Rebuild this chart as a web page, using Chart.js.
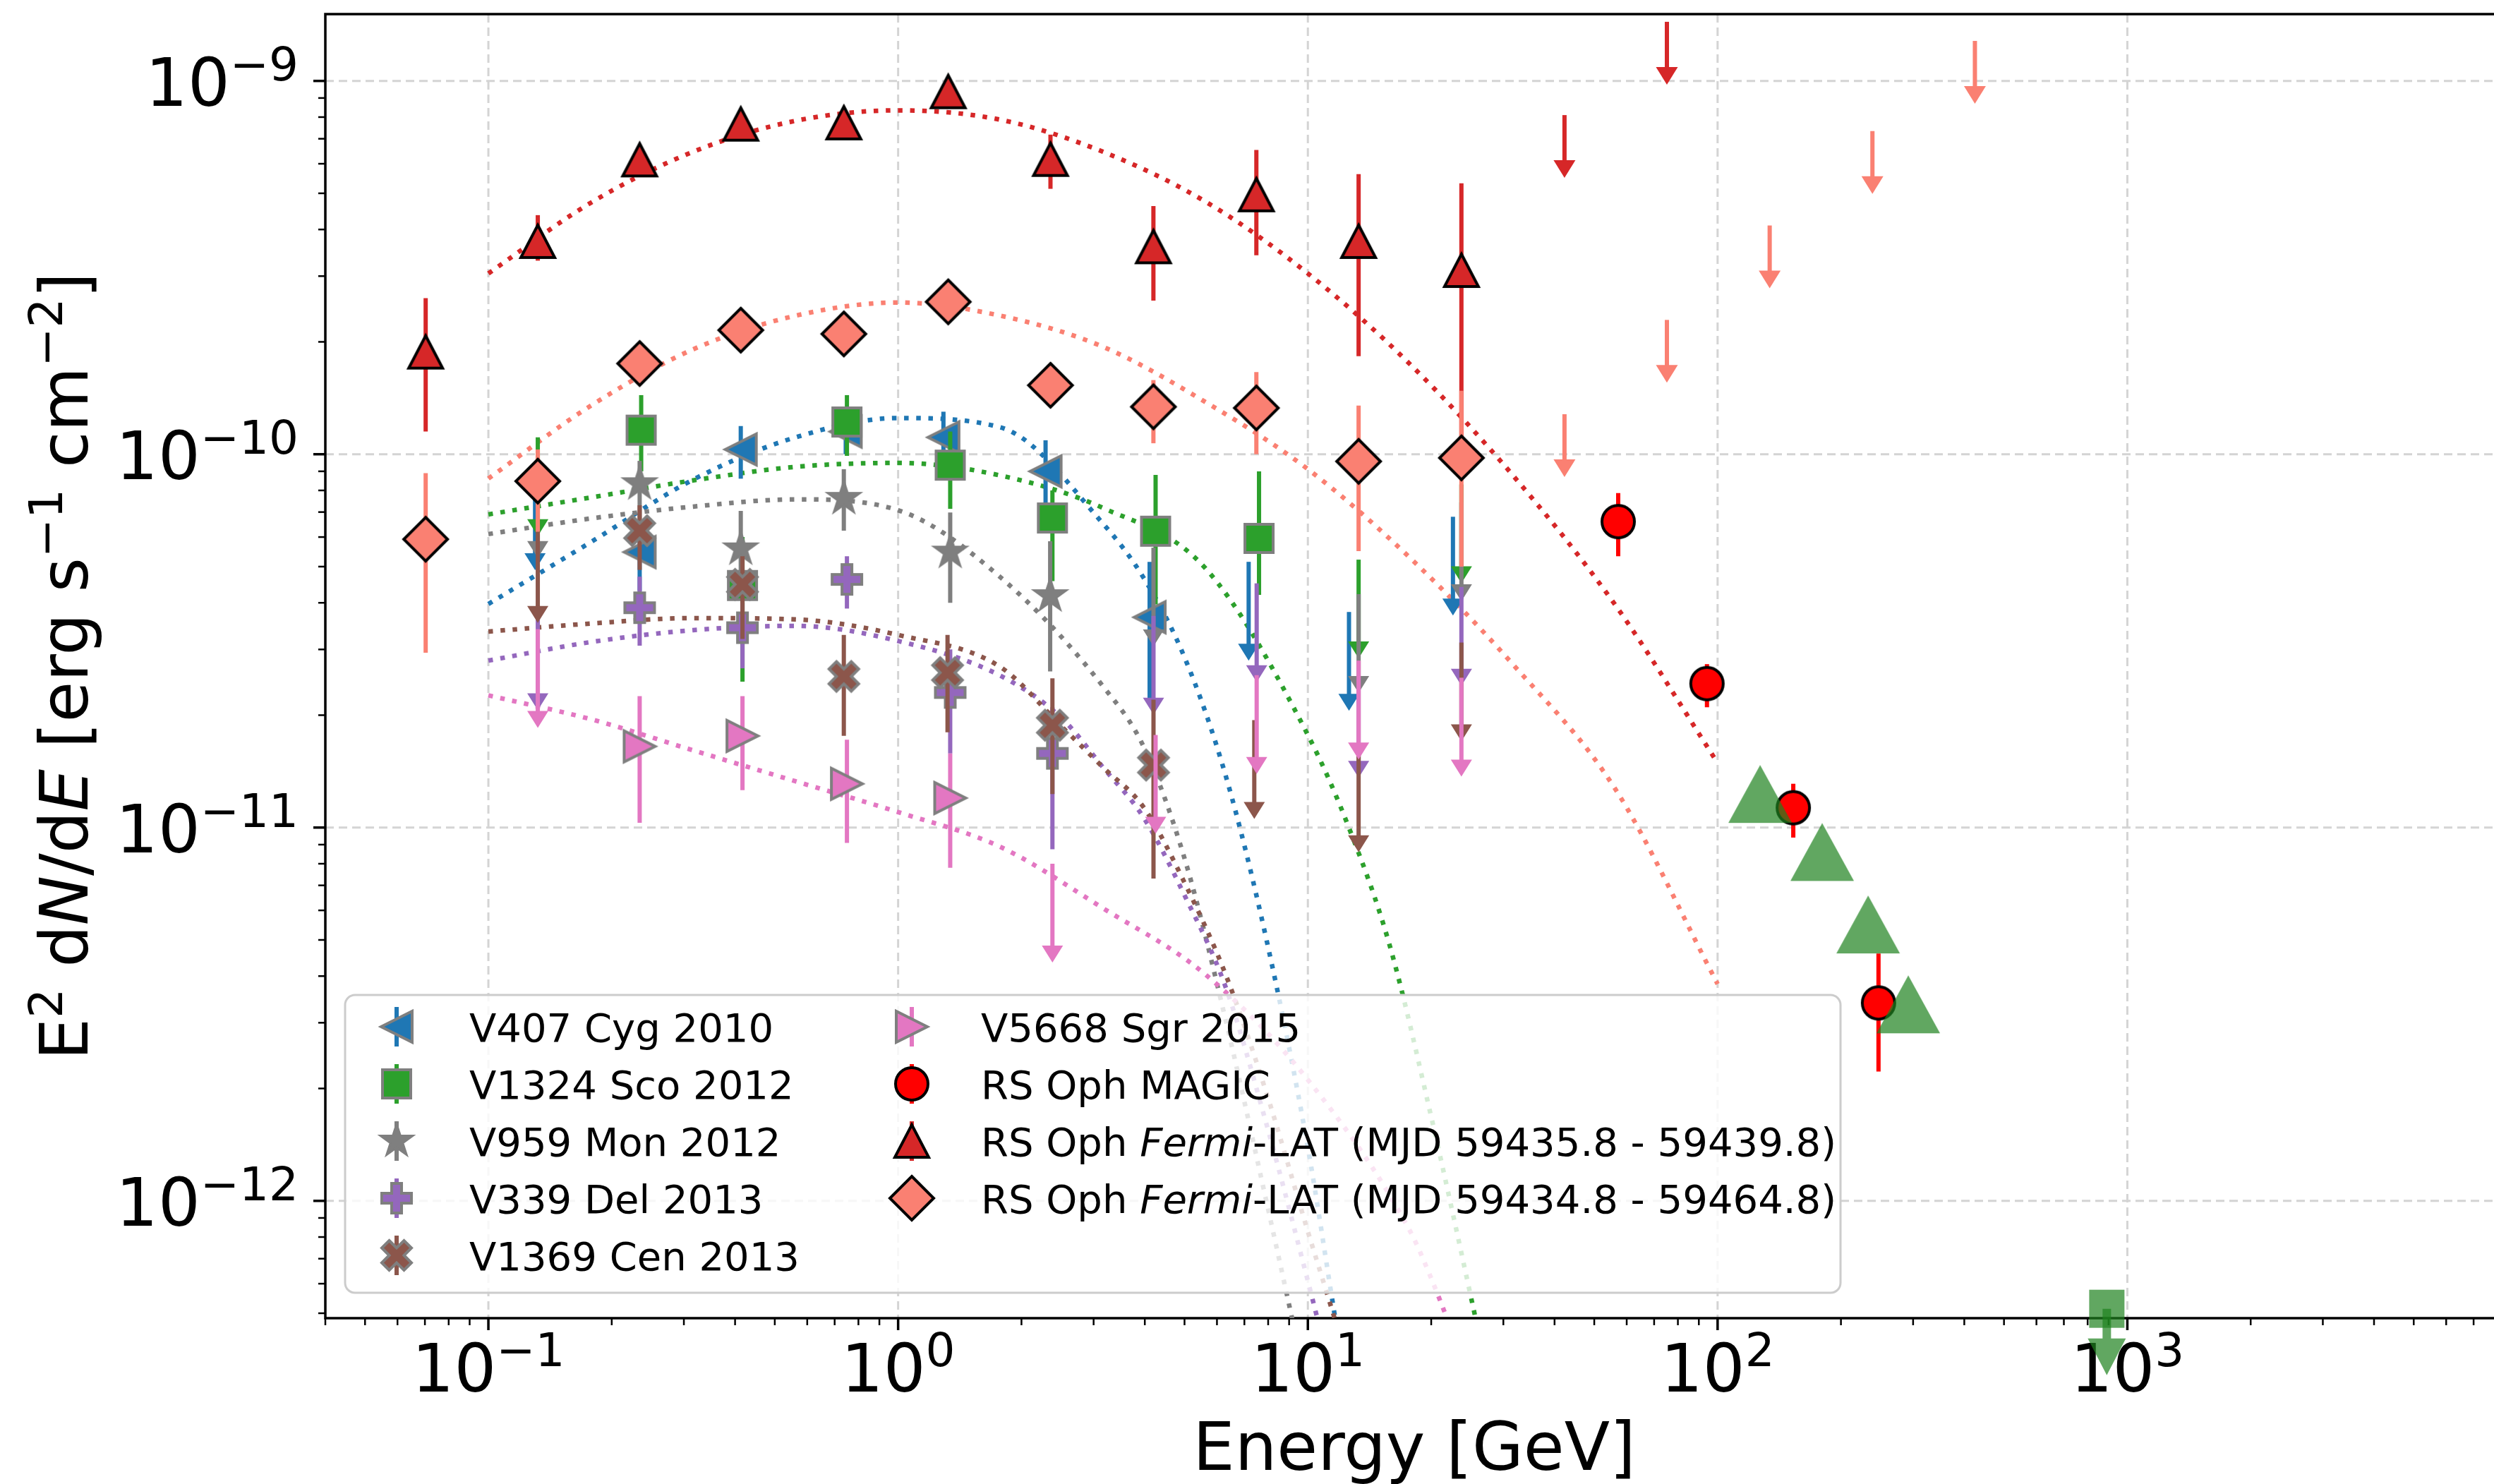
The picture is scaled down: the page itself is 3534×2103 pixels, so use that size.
<!DOCTYPE html>
<html>
<head>
<meta charset="utf-8">
<title>Espectros de novas</title>
<script src="https://cdn.jsdelivr.net/npm/chart.js@4.4.1/dist/chart.umd.min.js"></script>
<style>
  html, body { margin: 0; padding: 0; background: #fff; overflow: hidden; }
  canvas { display: block; }
</style>
</head>
<body>
<canvas id="espectro" width="3534" height="2103"></canvas>
<script>
const FONTE = '"DejaVu Sans"';
const CINZA = '#7f7f7f';

// eixos (energia em GeV, fluxo em erg s^-1 cm^-2)
const limitesX = [0.04, 7850];
const limitesY = [4.85e-13, 1.51e-9];
const ticksX = [0.1, 1, 10, 100, 1000];
const expoentesX = ['\u22121', '0', '1', '2', '3'];
const ticksY = [1e-9, 1e-10, 1e-11, 1e-12];
const expoentesY = ['\u22129', '\u221210', '\u221211', '\u221212'];

// V407 Cyg 2010
const cygE  = [0.234, 0.413, 0.745, 1.29, 2.29, 4.11];
const cygF  = [5.47e-11, 1.03e-10, 1.15e-10, 1.11e-10, 9.0e-11, 3.66e-11];
const cygLo = [4.3e-11, 8.6e-11, 1.0e-10, 1.0e-10, 6.98e-11, 2.2e-11];
const cygHi = [6.4e-11, 1.19e-10, 1.3e-10, 1.3e-10, 1.09e-10, 5.15e-11];
const cygUlE = [0.13, 7.17, 12.6, 22.6];
const cygUlF = [9.0e-11, 5.15e-11, 3.78e-11, 6.8e-11];
const cygAjE = [0.1, 0.178, 0.316, 0.562, 1, 1.778, 3.162, 3.981, 5.012, 6.31, 7.943, 10, 11.48, 12.59];
const cygAjF = [3.97e-11, 5.82e-11, 8.55e-11, 1.11e-10, 1.25e-10, 1.18e-10, 6.52e-11, 4.65e-11, 2.84e-11, 1.37e-11, 4.95e-12, 1.39e-12, 5.4e-13, 2.85e-13];

// V1324 Sco 2012
const scoE  = [0.236, 0.417, 0.75, 1.34, 2.38, 4.25, 7.6];
const scoF  = [1.16e-10, 4.45e-11, 1.22e-10, 9.35e-11, 6.75e-11, 6.22e-11, 5.95e-11];
const scoLo = [9.0e-11, 2.46e-11, 9.9e-11, 7.14e-11, 4.57e-11, 3.96e-11, 4.2e-11];
const scoHi = [1.44e-10, 6.0e-11, 1.44e-10, 1.15e-10, 8.0e-11, 8.8e-11, 9.0e-11];
const scoUlE = [0.132, 13.3, 23.7];
const scoUlF = [1.11e-10, 5.22e-11, 8.3e-11];
const scoAjE = [0.1, 0.178, 0.316, 0.562, 1, 1.778, 3.162, 5.623, 10, 12.59, 15.85, 19.95, 25.12, 28.18];
const scoAjF = [6.9e-11, 7.66e-11, 8.51e-11, 9.25e-11, 9.48e-11, 8.77e-11, 7.18e-11, 4.95e-11, 1.77e-11, 1.0e-11, 4.82e-12, 1.7e-12, 5.4e-13, 3.0e-13];

// V959 Mon 2012
const monE  = [0.234, 0.413, 0.737, 1.34, 2.35];
const monF  = [8.34e-11, 5.58e-11, 7.62e-11, 5.47e-11, 4.18e-11];
const monLo = [6.5e-11, 4.89e-11, 6.24e-11, 4.0e-11, 2.62e-11];
const monHi = [9.6e-11, 7.05e-11, 9.12e-11, 6.98e-11, 5.85e-11];
const monUlE = [0.132, 4.2, 13.3, 23.7];
const monUlF = [9.7e-11, 5.62e-11, 4.22e-11, 7.43e-11];
const monAjE = [0.1, 0.178, 0.316, 0.562, 1, 1.778, 3.162, 3.981, 5.012, 6.31, 7.943, 8.913, 10];
const monAjF = [6.11e-11, 6.73e-11, 7.24e-11, 7.57e-11, 7.08e-11, 4.68e-11, 2.39e-11, 1.64e-11, 8.2e-12, 3.03e-12, 9.84e-13, 5.53e-13, 3.1e-13];

// V339 Del 2013
const delE  = [0.234, 0.417, 0.75, 1.34, 2.38];
const delF  = [3.88e-11, 3.43e-11, 4.62e-11, 2.3e-11, 1.58e-11];
const delLo = [3.07e-11, 2.67e-11, 3.86e-11, 1.58e-11, 8.75e-12];
const delHi = [4.7e-11, 4.0e-11, 5.33e-11, 3.0e-11, 2.1e-11];
const delUlE = [0.132, 4.2, 7.5, 13.3, 23.7];
const delUlF = [3.79e-11, 3.69e-11, 4.51e-11, 2.5e-11, 4.41e-11];
const delAjE = [0.1, 0.178, 0.316, 0.562, 1, 1.778, 2.512, 3.162, 3.981, 5.012, 6.31, 7.943, 10, 11.22];
const delAjF = [2.8e-11, 3.14e-11, 3.38e-11, 3.47e-11, 3.16e-11, 2.55e-11, 1.96e-11, 1.45e-11, 1.06e-11, 6.55e-12, 3.72e-12, 1.59e-12, 6.1e-13, 3.7e-13];

// V1369 Cen 2013
const cenE  = [0.234, 0.417, 0.737, 1.32, 2.38, 4.2];
const cenF  = [6.24e-11, 4.48e-11, 2.54e-11, 2.6e-11, 1.88e-11, 1.47e-11];
const cenLo = [4.9e-11, 3.2e-11, 1.76e-11, 1.8e-11, 1.23e-11, 7.3e-12];
const cenHi = [7.3e-11, 5.33e-11, 3.28e-11, 3.28e-11, 2.51e-11, 2.2e-11];
const cenUlE = [0.132, 7.4, 13.3, 23.7];
const cenUlF = [6.5e-11, 1.94e-11, 1.58e-11, 3.13e-11];
const cenAjE = [0.1, 0.178, 0.316, 0.562, 1, 1.778, 2.512, 3.162, 3.981, 5.012, 6.31, 7.943, 10, 11.22, 12.59];
const cenAjF = [3.35e-11, 3.52e-11, 3.64e-11, 3.61e-11, 3.28e-11, 2.69e-11, 1.86e-11, 1.45e-11, 1.13e-11, 7.08e-12, 4.02e-12, 1.93e-12, 8.28e-13, 5.5e-13, 3.63e-13];

// V5668 Sgr 2015
const sgrE  = [0.234, 0.417, 0.75, 1.34];
const sgrF  = [1.65e-11, 1.76e-11, 1.31e-11, 1.2e-11];
const sgrLo = [1.03e-11, 1.26e-11, 9.1e-12, 7.8e-12];
const sgrHi = [2.25e-11, 2.25e-11, 1.72e-11, 1.58e-11];
const sgrUlE = [0.132, 2.38, 4.25, 7.5, 13.3, 23.7];
const sgrUlF = [3.4e-11, 8.0e-12, 1.77e-11, 2.56e-11, 2.8e-11, 2.52e-11];
const sgrAjE = [0.1, 0.178, 0.316, 0.562, 1, 1.778, 3.162, 5.623, 10, 17.78, 19.95, 25.12];
const sgrAjF = [2.26e-11, 1.95e-11, 1.61e-11, 1.33e-11, 1.1e-11, 8.87e-12, 6.08e-12, 4.04e-12, 2.11e-12, 8.28e-13, 6.24e-13, 3.24e-13];

// RS Oph MAGIC
const magicE  = [57.2, 94.2, 153, 247];
const magicF  = [6.6e-11, 2.43e-11, 1.13e-11, 3.39e-12];
const magicLo = [5.33e-11, 2.1e-11, 9.4e-12, 2.22e-12];
const magicHi = [7.87e-11, 2.74e-11, 1.31e-11, 4.6e-12];

// RS Oph Fermi-LAT (MJD 59435.8 - 59439.8)
const latCurtoE  = [0.0703, 0.132, 0.234, 0.413, 0.737, 1.325, 2.354, 4.198, 7.487, 13.3, 23.7];
const latCurtoF  = [1.88e-10, 3.72e-10, 6.15e-10, 7.67e-10, 7.73e-10, 9.37e-10, 6.17e-10, 3.6e-10, 4.96e-10, 3.72e-10, 3.11e-10];
const latCurtoLo = [1.15e-10, 3.3e-10, 5.8e-10, 7.3e-10, 7.35e-10, 8.9e-10, 5.14e-10, 2.58e-10, 3.41e-10, 1.83e-10, 1.0e-10];
const latCurtoHi = [2.62e-10, 4.37e-10, 6.5e-10, 8.05e-10, 8.1e-10, 9.85e-10, 7.18e-10, 4.62e-10, 6.53e-10, 5.63e-10, 5.32e-10];
const latCurtoUlE = [42.3, 75.2];
const latCurtoUlF = [8.1e-10, 1.44e-9];
const latAjE = [0.1, 0.178, 0.316, 0.562, 1, 1.778, 3.162, 5.623, 10, 17.78, 31.62, 56.23, 100];
const latCurtoAjF = [3.05e-10, 4.72e-10, 6.46e-10, 7.82e-10, 8.34e-10, 7.87e-10, 6.46e-10, 4.75e-10, 3.05e-10, 1.74e-10, 8.79e-11, 3.95e-11, 1.49e-11];

// RS Oph Fermi-LAT (MJD 59434.8 - 59464.8)
const latLongoE  = [0.0703, 0.132, 0.234, 0.413, 0.737, 1.325, 2.354, 4.198, 7.487, 13.3, 23.7];
const latLongoF  = [5.92e-11, 8.47e-11, 1.75e-10, 2.15e-10, 2.1e-10, 2.56e-10, 1.53e-10, 1.34e-10, 1.33e-10, 9.57e-11, 9.78e-11];
const latLongoLo = [2.94e-11, 6.2e-11, 1.62e-10, 2.0e-10, 1.95e-10, 2.4e-10, 1.4e-10, 1.07e-10, 1.0e-10, 5.5e-11, 5.0e-11];
const latLongoHi = [8.9e-11, 1.03e-10, 1.9e-10, 2.3e-10, 2.25e-10, 2.72e-10, 1.66e-10, 1.58e-10, 1.66e-10, 1.35e-10, 1.48e-10];
const latLongoUlE = [42.3, 75.2, 134, 238.7, 424.6];
const latLongoUlF = [1.28e-10, 2.29e-10, 4.1e-10, 7.34e-10, 1.28e-9];
const latLongoAjF = [8.61e-11, 1.35e-10, 1.91e-10, 2.35e-10, 2.55e-10, 2.35e-10, 1.94e-10, 1.38e-10, 9.12e-11, 5.27e-11, 2.74e-11, 1.27e-11, 3.81e-12];

// pontos verdes sem legenda (TeV)
const verdeE = [127, 180, 233, 292];
const verdeF = [1.23e-11, 8.6e-12, 5.5e-12, 3.36e-12];
const verdeUlE = [891];
const verdeUlF = [5.14e-13];

// ---------- marcadores desenhados em canvas pequenos ----------
function tracar(g, forma, a, b) {
  const poli = pts => pts.forEach((p, i) => i ? g.lineTo(p[0], p[1]) : g.moveTo(p[0], p[1]));
  switch (forma) {
    case 'cima': poli([[0, -b], [a, b], [-a, b]]); break;
    case 'esq': poli([[-a, 0], [a, -b], [a, b]]); break;
    case 'dir': poli([[a, 0], [-a, -b], [-a, b]]); break;
    case 'quadrado': g.rect(-a, -b, 2 * a, 2 * b); break;
    case 'losango': poli([[0, -b], [a, 0], [0, b], [-a, 0]]); break;
    case 'circulo': g.ellipse(0, 0, a, b, 0, 0, 2 * Math.PI); break;
    case 'estrela': {
      const pts = [];
      for (let k = 0; k < 10; k++) {
        const r = k % 2 ? a * 0.382 : a;
        const ang = -Math.PI / 2 + k * Math.PI / 5;
        pts.push([r * Math.cos(ang), r * Math.sin(ang)]);
      }
      poli(pts); break;
    }
    case 'mais': {
      const t = a / 3;
      poli([[-t, -a], [t, -a], [t, -t], [a, -t], [a, t], [t, t], [t, a], [-t, a], [-t, t], [-a, t], [-a, -t], [-t, -t]]);
      break;
    }
    case 'xis': {
      const u = [[0.25, 0], [0.5, 0.25], [0.75, 0], [1, 0.25], [0.75, 0.5], [1, 0.75], [0.75, 1], [0.5, 0.75], [0.25, 1], [0, 0.75], [0.25, 0.5], [0, 0.25]];
      poli(u.map(p => [(p[0] - 0.5) * 2 * a, (p[1] - 0.5) * 2 * b]));
      break;
    }
  }
}

function marcador(forma, w, h, fill, borda, lw) {
  const pad = lw * 2 + 2;
  const c = document.createElement('canvas');
  c.width = Math.ceil(w + 2 * pad);
  c.height = Math.ceil(h + 2 * pad);
  const g = c.getContext('2d');
  g.translate(c.width / 2, c.height / 2);
  g.beginPath();
  tracar(g, forma, w / 2, h / 2);
  g.closePath();
  g.fillStyle = fill;
  g.fill();
  if (lw > 0) {
    g.lineWidth = lw;
    g.strokeStyle = borda;
    g.lineJoin = 'miter';
    g.stroke();
  }
  return c;
}

const mkCyg = marcador('esq', 44, 44, '#1f77b4', CINZA, 4);
const mkSco = marcador('quadrado', 40, 40, '#2ca02c', CINZA, 4);
const mkMon = marcador('estrela', 48, 48, CINZA, CINZA, 3);
const mkDel = marcador('mais', 42, 42, '#9467bd', CINZA, 4);
const mkCen = marcador('xis', 42, 42, '#8c564b', CINZA, 4);
const mkSgr = marcador('dir', 44, 44, '#e377c2', CINZA, 4);
const mkMagic = marcador('circulo', 46, 46, '#ff0000', '#000', 4);
const mkLatCurto = marcador('cima', 48, 46, '#d62728', '#000', 4);
const mkLatLongo = marcador('losango', 62, 62, '#fa8072', '#000', 4);
const VERDE = 'rgba(30,130,30,0.7)';
const mkVerde = marcador('cima', 90, 82, VERDE, null, 0);
const mkVerdeQ = marcador('quadrado', 50, 54, VERDE, null, 0);

// ---------- datasets ----------
const conjuntos = [];
const pares = (E, F) => E.map((e, i) => ({ x: e, y: F[i] }));

function curva(E, F, cor) {
  conjuntos.push({
    type: 'line', data: pares(E, F), showLine: true, borderColor: cor, borderWidth: 6.5,
    borderDash: [6.5, 10.7], borderCapStyle: 'butt', pointRadius: 0, fill: false,
    cubicInterpolationMode: 'monotone', capBezierPoints: false, clip: 0
  });
}
function pontos(E, F, img, cor, lo, hi) {
  conjuntos.push({
    type: 'scatter', data: pares(E, F), pointStyle: img, pointRadius: 20, showLine: false,
    clip: false, corErro: cor, erroLo: lo, erroHi: hi
  });
}
function limites(E, F, cor, seta) {
  conjuntos.push({
    type: 'scatter', data: pares(E, F), pointRadius: 0, showLine: false, clip: false,
    corErro: cor, seta: seta
  });
}

const setaNova = { comp: 140, w: 30, h: 24, lw: 6 };
const setaRs = { comp: 89, w: 31, h: 25, lw: 6 };

curva(cygAjE, cygAjF, '#1f77b4');
curva(scoAjE, scoAjF, '#2ca02c');
curva(monAjE, monAjF, CINZA);
curva(delAjE, delAjF, '#9467bd');
curva(cenAjE, cenAjF, '#8c564b');
curva(sgrAjE, sgrAjF, '#e377c2');
curva(latAjE, latCurtoAjF, '#d62728');
curva(latAjE, latLongoAjF, '#fa8072');

limites(cygUlE, cygUlF, '#1f77b4', setaNova);
pontos(cygE, cygF, mkCyg, '#1f77b4', cygLo, cygHi);
limites(scoUlE, scoUlF, '#2ca02c', setaNova);
pontos(scoE, scoF, mkSco, '#2ca02c', scoLo, scoHi);
limites(monUlE, monUlF, CINZA, setaNova);
pontos(monE, monF, mkMon, CINZA, monLo, monHi);
limites(delUlE, delUlF, '#9467bd', setaNova);
pontos(delE, delF, mkDel, '#9467bd', delLo, delHi);
limites(cenUlE, cenUlF, '#8c564b', setaNova);
pontos(cenE, cenF, mkCen, '#8c564b', cenLo, cenHi);
limites(sgrUlE, sgrUlF, '#e377c2', setaNova);
pontos(sgrE, sgrF, mkSgr, '#e377c2', sgrLo, sgrHi);
pontos(magicE, magicF, mkMagic, '#ff0000', magicLo, magicHi);
limites(latCurtoUlE, latCurtoUlF, '#d62728', setaRs);
pontos(latCurtoE, latCurtoF, mkLatCurto, '#d62728', latCurtoLo, latCurtoHi);
limites(latLongoUlE, latLongoUlF, '#fa8072', setaRs);
pontos(latLongoE, latLongoF, mkLatLongo, '#fa8072', latLongoLo, latLongoHi);
pontos(verdeE, verdeF, mkVerde, VERDE, null, null);
limites(verdeUlE, verdeUlF, VERDE, { comp: 94, w: 54, h: 52, lw: 12, unico: true });
pontos(verdeUlE, verdeUlF, mkVerdeQ, VERDE, null, null);

conjuntos.forEach((d, i) => { d.order = -i; });

// ---------- texto com expoentes ----------
function fonte(tam, ital) { return (ital ? 'italic ' : '') + tam + 'px ' + FONTE; }
function larguraPartes(c, partes) {
  let w = 0;
  partes.forEach(p => { c.font = fonte(p[1], p[2]); w += c.measureText(p[0]).width; });
  return w;
}
function escreverPartes(c, partes, x, y) {
  let cx = x;
  partes.forEach(p => {
    c.font = fonte(p[1], p[2]);
    c.fillText(p[0], cx, y - (p[3] || 0));
    cx += c.measureText(p[0]).width;
  });
}
const potencia = e => [['10', 94, false, 0], [e, 66, false, 36]];

// ---------- eixos, grade e rótulos ----------
const eixosPlugin = {
  id: 'eixos',
  beforeDatasetsDraw(chart) {
    const c = chart.ctx, a = chart.chartArea, X = chart.scales.x, Y = chart.scales.y;
    c.save();
    c.strokeStyle = '#d4d4d4';
    c.lineWidth = 3;
    c.setLineDash([12, 7]);
    ticksX.forEach(v => {
      const x = X.getPixelForValue(v);
      c.beginPath(); c.moveTo(x, a.top); c.lineTo(x, a.bottom); c.stroke();
    });
    ticksY.forEach(v => {
      const y = Y.getPixelForValue(v);
      c.beginPath(); c.moveTo(a.left, y); c.lineTo(a.right, y); c.stroke();
    });
    c.setLineDash([]);

    c.strokeStyle = '#000';
    // ticks menores
    c.lineWidth = 2.5;
    for (let k = -2; k <= 3; k++) {
      for (let m = 2; m <= 9; m++) {
        const v = m * Math.pow(10, k);
        if (v < limitesX[0] || v > limitesX[1]) continue;
        const x = X.getPixelForValue(v);
        c.beginPath(); c.moveTo(x, a.bottom); c.lineTo(x, a.bottom + 10); c.stroke();
      }
    }
    for (let k = -13; k <= -9; k++) {
      for (let m = 2; m <= 9; m++) {
        const v = m * Math.pow(10, k);
        if (v < limitesY[0] || v > limitesY[1]) continue;
        const y = Y.getPixelForValue(v);
        c.beginPath(); c.moveTo(a.left, y); c.lineTo(a.left - 10, y); c.stroke();
      }
    }
    // ticks maiores
    c.lineWidth = 3.5;
    ticksX.forEach(v => {
      const x = X.getPixelForValue(v);
      c.beginPath(); c.moveTo(x, a.bottom); c.lineTo(x, a.bottom + 17); c.stroke();
    });
    ticksY.forEach(v => {
      const y = Y.getPixelForValue(v);
      c.beginPath(); c.moveTo(a.left, y); c.lineTo(a.left - 17, y); c.stroke();
    });
    // molduras (esquerda, topo, base)
    c.lineWidth = 3.5;
    c.beginPath();
    c.moveTo(a.right + 5, a.top); c.lineTo(a.left, a.top); c.lineTo(a.left, a.bottom); c.lineTo(a.right + 5, a.bottom);
    c.stroke();

    // rótulos dos ticks
    c.fillStyle = '#000';
    c.textBaseline = 'alphabetic';
    ticksX.forEach((v, i) => {
      const partes = potencia(expoentesX[i]);
      const w = larguraPartes(c, partes);
      escreverPartes(c, partes, X.getPixelForValue(v) - w / 2, 1972);
    });
    ticksY.forEach((v, i) => {
      const partes = potencia(expoentesY[i]);
      const w = larguraPartes(c, partes);
      escreverPartes(c, partes, 423 - w, Y.getPixelForValue(v) + 35);
    });

    // títulos
    const tx = [['Energy [GeV]', 94, false, 0]];
    escreverPartes(c, tx, 2004 - larguraPartes(c, tx) / 2, 2083);
    const ty = [['E', 94], ['2', 66, false, 36], [' d', 94], ['N', 94, true], ['/d', 94], ['E', 94, true],
      [' [erg s', 94], ['\u22121', 66, false, 36], [' cm', 94], ['\u22122', 66, false, 36], [']', 94]];
    c.translate(124, (a.top + a.bottom) / 2);
    c.rotate(-Math.PI / 2);
    escreverPartes(c, ty, -larguraPartes(c, ty) / 2, 0);
    c.restore();
  }
};

// ---------- barras de erro e limites superiores ----------
const barrasPlugin = {
  id: 'barras',
  beforeDatasetDraw(chart, args) {
    const ds = chart.data.datasets[args.index];
    const c = chart.ctx, X = chart.scales.x, Y = chart.scales.y;
    c.save();
    if (ds.erroLo) {
      c.strokeStyle = ds.corErro;
      c.lineWidth = 6;
      ds.data.forEach((p, i) => {
        const x = X.getPixelForValue(p.x);
        c.beginPath();
        c.moveTo(x, Y.getPixelForValue(ds.erroHi[i]));
        c.lineTo(x, Y.getPixelForValue(ds.erroLo[i]));
        c.stroke();
      });
    }
    if (ds.seta) {
      const s = ds.seta;
      c.fillStyle = ds.corErro;
      c.strokeStyle = ds.corErro;
      ds.data.forEach(p => {
        const x = X.getPixelForValue(p.x), y0 = Y.getPixelForValue(p.y);
        const yb = y0 + s.comp - s.h;
        if (s.unico) {
          c.beginPath();
          c.moveTo(x - s.lw / 2, y0); c.lineTo(x + s.lw / 2, y0); c.lineTo(x + s.lw / 2, yb);
          c.lineTo(x + s.w / 2, yb); c.lineTo(x, y0 + s.comp); c.lineTo(x - s.w / 2, yb);
          c.lineTo(x - s.lw / 2, yb); c.closePath(); c.fill();
        } else {
          c.lineWidth = s.lw;
          c.beginPath(); c.moveTo(x, y0); c.lineTo(x, yb + 2); c.stroke();
          c.beginPath(); c.moveTo(x - s.w / 2, yb); c.lineTo(x + s.w / 2, yb); c.lineTo(x, y0 + s.comp);
          c.closePath(); c.fill();
        }
      });
    }
    c.restore();
  }
};

// ---------- legenda ----------
const legenda = [
  { img: mkCyg, cor: '#1f77b4', nome: 'V407 Cyg 2010' },
  { img: mkSco, cor: '#2ca02c', nome: 'V1324 Sco 2012' },
  { img: mkMon, cor: CINZA, nome: 'V959 Mon 2012' },
  { img: mkDel, cor: '#9467bd', nome: 'V339 Del 2013' },
  { img: mkCen, cor: '#8c564b', nome: 'V1369 Cen 2013' },
  { img: mkSgr, cor: '#e377c2', nome: 'V5668 Sgr 2015' },
  { img: mkMagic, cor: '#ff0000', nome: 'RS Oph MAGIC' },
  { img: mkLatCurto, cor: '#d62728', nome: 'RS Oph Fermi-LAT (MJD 59435.8 - 59439.8)' },
  { img: mkLatLongo, cor: '#fa8072', nome: 'RS Oph Fermi-LAT (MJD 59434.8 - 59464.8)' }
];

const legendaPlugin = {
  id: 'legendaNovas',
  afterDraw(chart) {
    const c = chart.ctx;
    c.save();
    const bx = 489, by = 1410, bw = 2119, bh = 422, r = 14;
    c.beginPath();
    c.moveTo(bx + r, by); c.arcTo(bx + bw, by, bx + bw, by + bh, r); c.arcTo(bx + bw, by + bh, bx, by + bh, r);
    c.arcTo(bx, by + bh, bx, by, r); c.arcTo(bx, by, bx + bw, by, r); c.closePath();
    c.fillStyle = 'rgba(255,255,255,0.8)';
    c.fill();
    c.strokeStyle = '#cccccc';
    c.lineWidth = 3;
    c.stroke();

    const linhas = [1455, 1536, 1617, 1698, 1779];
    legenda.forEach((item, i) => {
      const col = i < 5 ? 0 : 1;
      const y = linhas[col ? i - 5 : i];
      const hx = col ? 1292 : 562;
      const tx = col ? 1390 : 665;
      c.strokeStyle = item.cor;
      c.lineWidth = 6;
      c.beginPath(); c.moveTo(hx, y - 28); c.lineTo(hx, y + 28); c.stroke();
      c.drawImage(item.img, hx - item.img.width / 2, y - item.img.height / 2);
      c.fillStyle = '#000';
      c.textBaseline = 'alphabetic';
      const k = item.nome.indexOf('Fermi');
      const partes = k < 0 ? [[item.nome, 56]] :
        [[item.nome.slice(0, k), 56], ['Fermi', 56, true], [item.nome.slice(k + 5), 56]];
      escreverPartes(c, partes, tx, y + 21);
    });
    c.restore();
  }
};

new Chart(document.getElementById('espectro'), {
  type: 'scatter',
  data: { datasets: conjuntos },
  options: {
    responsive: false,
    animation: false,
    devicePixelRatio: 1,
    events: [],
    layout: { autoPadding: false, padding: { left: 461, top: 20, right: 0, bottom: 235 } },
    scales: {
      x: { type: 'logarithmic', min: limitesX[0], max: limitesX[1], display: false },
      y: { type: 'logarithmic', min: limitesY[0], max: limitesY[1], display: false }
    },
    plugins: { legend: { display: false }, tooltip: { enabled: false } }
  },
  plugins: [eixosPlugin, barrasPlugin, legendaPlugin]
});
</script>
</body>
</html>
